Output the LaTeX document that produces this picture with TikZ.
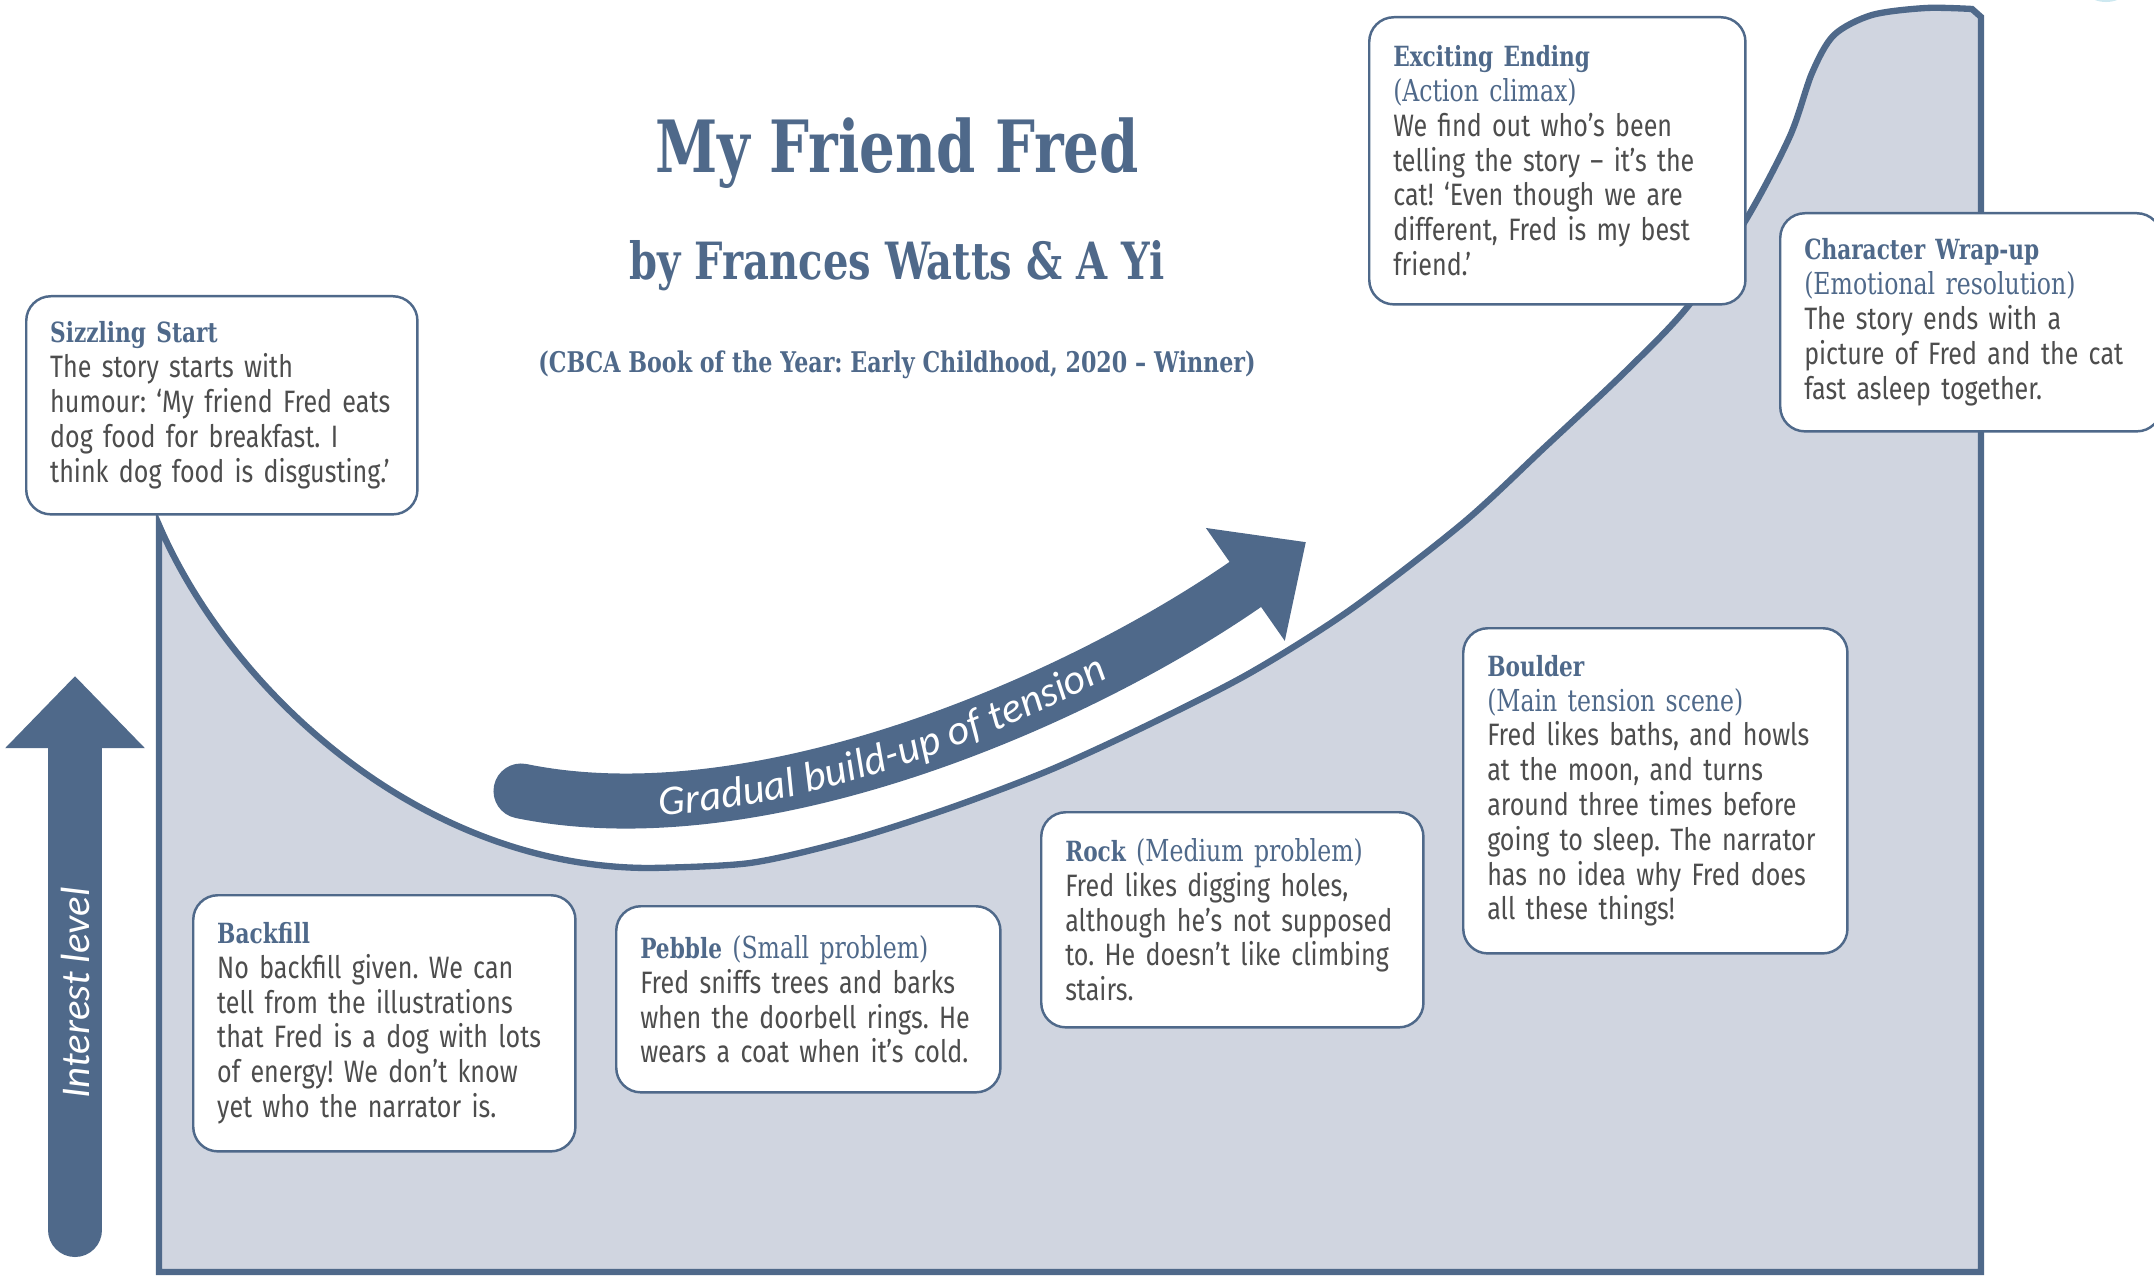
\documentclass[tikz,border=0pt]{standalone}
\usepackage{fontspec}
\setmainfont{Fira Sans}
\newfontfamily\bodyfont[FakeStretch=0.81]{Fira Sans}
\newfontfamily\slabfont[FakeStretch=0.78]{DejaVu Serif}
\newfontfamily\swashfont{Carlito}
\usepackage{tikz}
\usetikzlibrary{arrows.meta, decorations.text, positioning}
\definecolor{navy}{RGB}{79,105,138}
\definecolor{paleblue}{RGB}{208,213,224}
\definecolor{bodygrey}{RGB}{77,77,77}
\definecolor{paleteal}{RGB}{205,232,240}
\frenchspacing
\hyphenpenalty=10000
\exhyphenpenalty=10000
\newcommand{\stagehead}[1]{{\slabfont\bfseries\fontsize{7.9}{9.9}\selectfont\color{navy}#1}}
\newcommand{\stagenote}[1]{{\slabfont\fontsize{8.6}{9.9}\selectfont\color{navy}#1}}

\begin{document}
\begin{tikzpicture}[x=0.01cm, y=-0.01cm,
		stage/.style={draw=navy, line width=0.7pt, fill=white, rounded corners=7pt, anchor=north west,
			align=left, inner xsep=0.24cm, inner ysep=0.2cm, text=bodygrey,
			font=\bodyfont\fontsize{8.8}{9.9}\selectfont},
		bigarrow/.style={navy, line width=0.55cm, line cap=round}]
	\useasboundingbox (0,0) rectangle (2154,1276);
	
	% interest curve
	\draw[navy, line width=1.8pt, fill=paleblue] (159,1272) -- (159,525) .. controls (230,690) and (420,868) .. (650,868)
		-- plot[smooth, tension=0.5] coordinates {(650,868) (750,863) (850,840) (950,808) (1050,770) (1150,724) (1250,673) (1350,610) (1463,523) (1545,447) (1627,370) (1689,305) (1747,218) (1790,136) (1812,73) (1834,35) (1872,15) (1926,8) (1972,9)}
		-- (1981,17) -- (1981,1272) -- cycle;
	\fill[paleteal] (2106,-30) circle [radius=0.32cm];
	
	% interest level
	\coordinate (interest-foot) at (75,1230);
	\coordinate (interest-tip) at (75,676);
	\draw[bigarrow, line width=0.54cm, -{Triangle[length=0.72cm, width=1.35cm]}] (interest-foot) -- (interest-tip);
	\node[rotate=90, text=white, font=\swashfont\itshape\fontsize{11.6}{14}\selectfont] (interest) at (75,993) {Interest level};
	
	% tension
	\coordinate (tension-tail) at (521,791);
	\coordinate (tension-tip) at (1306,542);
	\draw[bigarrow, -{Triangle[length=0.74cm, width=1.33cm]}] (tension-tail) .. controls (760,840) and (1080,700) .. (tension-tip);
	\path[decorate, decoration={text along path, text={|\swashfont\itshape\fontsize{12}{14}\selectfont\color{white}|Gradual build-up of tension}, text align={left indent=1.38cm}, raise=-0.15cm}] (tension-tail) .. controls (760,840) and (1080,700) .. (tension-tip);
	
	% titles
	\node[anchor=base, text=navy, font=\slabfont\bfseries\fontsize{20.5}{24}\selectfont] (title) at (897,173) {My Friend Fred};
	\node[anchor=base, text=navy, font=\slabfont\bfseries\fontsize{14.6}{18}\selectfont] (authors) at (897,279) {by Frances Watts \& A Yi};
	\node[anchor=base, text=navy, font=\slabfont\bfseries\fontsize{8.1}{10}\selectfont] (award) at (897,372) {(CBCA Book of the Year: Early Childhood, 2020 – Winner)};
	
	% stages
	\node[stage, text width=3.43cm, minimum height=2.18cm] (sizzle) at (25,295) {\stagehead{Sizzling Start}\\ The story starts with\\ humour: ‘My friend Fred eats\\ dog food for breakfast. I\\ think dog food is disgusting.’};
	\node[stage, text width=3.34cm, minimum height=2.56cm] (backfill) at (192,894) {\stagehead{Backfill}\\ No backfill given. We can\\ tell from the illustrations\\ that Fred is a dog with lots\\ of energy! We don’t know\\ yet who the narrator is.};
	\node[stage, text width=3.36cm, minimum height=1.86cm] (pebble) at (615,905) {\stagehead{Pebble} \stagenote{(Small problem)}\\ Fred sniffs trees and barks\\ when the doorbell rings. He\\ wears a coat when it’s cold.};
	\node[stage, text width=3.34cm, minimum height=2.15cm] (rock) at (1040,811) {\stagehead{Rock} \stagenote{(Medium problem)}\\ Fred likes digging holes,\\ although he’s not supposed\\ to. He doesn’t like climbing\\ stairs.};
	\node[stage, text width=3.36cm, minimum height=3.25cm] (boulder) at (1462,627) {\stagehead{Boulder}\\ \stagenote{(Main tension scene)}\\ Fred likes baths, and howls\\ at the moon, and turns\\ around three times before\\ going to sleep. The narrator\\ has no idea why Fred does\\ all these things!};
	\node[stage, text width=3.28cm, minimum height=2.87cm] (climax) at (1368,16) {\stagehead{Exciting Ending}\\ \stagenote{(Action climax)}\\ We find out who’s been\\ telling the story – it’s the\\ cat! ‘Even though we are\\ different, Fred is my best\\ friend.’};
	\node[stage, text width=3.33cm, minimum height=2.18cm] (wrapup) at (1779,212) {\stagehead{Character Wrap-up}\\ \stagenote{(Emotional resolution)}\\ The story ends with a\\ picture of Fred and the cat\\ fast asleep together.};
\end{tikzpicture}
\end{document}
